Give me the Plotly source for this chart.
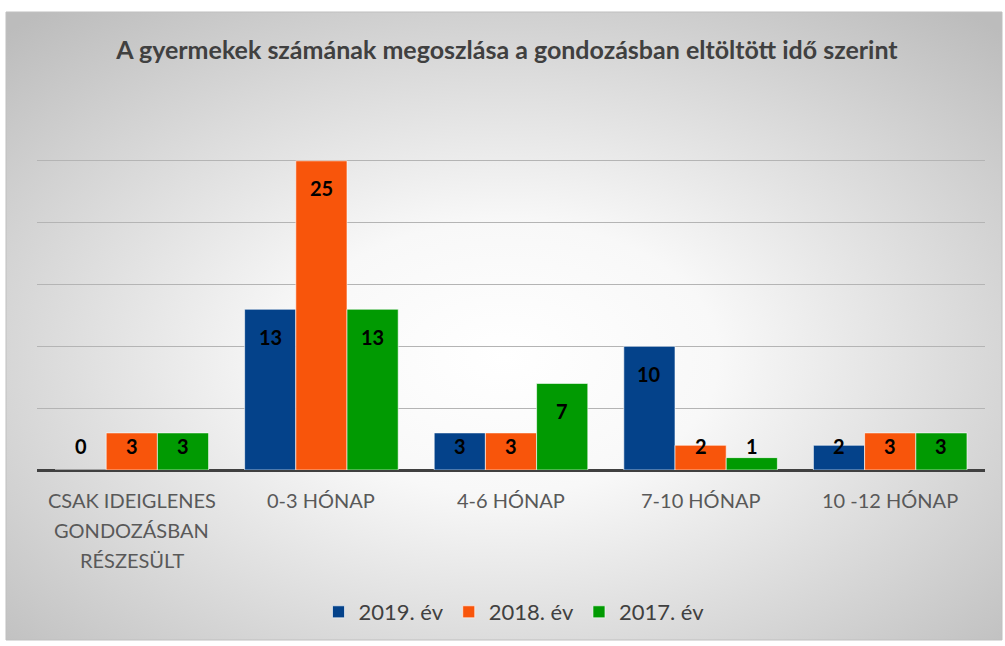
import plotly.graph_objects as go
import base64

categories = ["CSAK IDEIGLENES<br>GONDOZÁSBAN<br>RÉSZESÜLT", "0-3 HÓNAP", "4-6 HÓNAP", "7-10 HÓNAP", "10 -12 HÓNAP"]
series_names = ["2019. év", "2018. év", "2017. év"]
v2019 = [0, 13, 3, 10, 2]
v2018 = [3, 25, 3, 2, 3]
v2017 = [3, 13, 7, 1, 3]
colors = ["#04428A", "#F8550B", "#019A02"]
title = "A gyermekek számának megoszlása a gondozásban eltöltött idő szerint"

FONT = "Lato"
W, H = 1005, 646
L, R, T, B = 37, 20, 99, 176
pw, ph = W - L - R, H - T - B

fig = go.Figure()
all_vals = [v2019, v2018, v2017]
for name, vals, col in zip(series_names, all_vals, colors):
    fig.add_trace(go.Bar(
        x=categories, y=vals, name=name,
        marker=dict(color=col, line=dict(color="rgba(255,255,255,0.6)", width=1)),
    ))

bargap = 0.19
bw = (1 - bargap) / 3
for k, vals in enumerate(all_vals):
    for i, v in enumerate(vals):
        fig.add_annotation(
            x=i + (k - 1) * bw, y=max(v, 4.16), xref="x", yref="y",
            text=str(v), showarrow=False, yshift=-27.5,
            font=dict(family=FONT, size=20, color="#000000", weight="bold"),
        )

# category labels (one annotation per text line for Excel-like line spacing)
for i, cat in enumerate(categories):
    for j, line in enumerate(cat.split("<br>")):
        fig.add_annotation(
            x=i, y=0, xref="x", yref="y", text=line, showarrow=False,
            yshift=-30 - 30 * j, yanchor="middle",
            font=dict(family=FONT, size=20, color="#595959"),
        )

svg = f'''<svg xmlns="http://www.w3.org/2000/svg" width="996" height="628">
<defs><radialGradient id="g" cx="50%" cy="55%" r="72%">
<stop offset="0%" stop-color="#ffffff"/><stop offset="30%" stop-color="#f8f8f8"/>
<stop offset="100%" stop-color="#bcbcbc"/></radialGradient></defs>
<rect width="996" height="628" fill="url(#g)"/></svg>'''
src = "data:image/svg+xml;base64," + base64.b64encode(svg.encode()).decode()

x0 = (6 - L) / pw
y0 = (H - B - 12) / ph
fig.add_layout_image(dict(
    source=src, xref="paper", yref="paper", x=x0, y=y0,
    sizex=996 / pw, sizey=628 / ph, sizing="stretch",
    xanchor="left", yanchor="top", layer="below",
))
fig.add_shape(type="rect", xref="paper", yref="paper",
              x0=x0, x1=x0 + 996 / pw, y0=y0 - 628 / ph, y1=y0,
              line=dict(color="#bfbfbf", width=1), layer="below")

fig.update_layout(
    width=W, height=H,
    margin=dict(l=L, r=R, t=T, b=B),
    paper_bgcolor="#ffffff", plot_bgcolor="rgba(0,0,0,0)",
    barmode="group", bargap=bargap, bargroupgap=0,
    title=dict(text=f"<b>{title}</b>", x=507 / W, xanchor="center", y=1 - 50 / H, yanchor="middle",
               font=dict(family=FONT, size=25, color="#404040")),
    showlegend=True,
    legend=dict(orientation="h", x=(514 - L) / pw, xanchor="center",
                y=(H - B - 612) / ph, yanchor="middle",
                font=dict(family=FONT, size=22, color="#404040"),
                bgcolor="rgba(0,0,0,0)"),
    xaxis=dict(showgrid=False, showline=False, ticks="", showticklabels=False),
    yaxis=dict(range=[0, 30], dtick=5, showticklabels=False, showgrid=True,
               gridcolor="#b4b4b4", gridwidth=1, zeroline=True,
               zerolinecolor="#404040", zerolinewidth=3, showline=False),
)

fig.write_html("out.html", config={"displayModeBar": False},
               post_script="document.body.style.margin='0';document.body.style.padding='0';")
